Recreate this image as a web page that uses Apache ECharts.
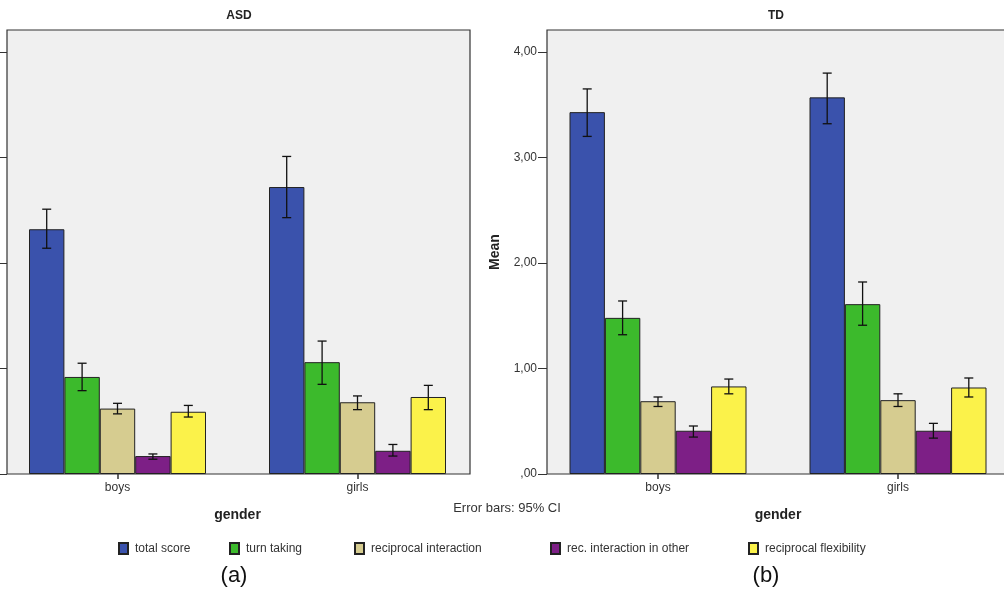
<!DOCTYPE html>
<html>
<head>
<meta charset="utf-8">
<script src="https://cdn.jsdelivr.net/npm/echarts@6/dist/echarts.min.js"></script>
<style>
html,body{margin:0;padding:0;background:#fff;}
#c{width:1004px;height:589px;}
</style>
</head>
<body>
<div id="c"></div>
<script>
// ---- data ----
const categories = ['boys', 'girls'];
const seriesNames = ['total score', 'turn taking', 'reciprocal interaction', 'rec. interaction in other', 'reciprocal flexibility'];
const seriesColors = ['#3a52ac', '#3cba2c', '#d6cc90', '#7d1f86', '#fbf24a'];
const yTicks = [0, 1, 2, 3, 4];
const yTickLabels = [',00', '1,00', '2,00', '3,00', '4,00'];

// ASD panel (a): per series order above
const asdMeanBoys  = [2.32, 0.92, 0.62, 0.17, 0.59];
const asdMeanGirls = [2.72, 1.06, 0.68, 0.22, 0.73];
const asdLowBoys   = [2.14, 0.79, 0.57, 0.14, 0.54];
const asdHighBoys  = [2.51, 1.05, 0.67, 0.19, 0.65];
const asdLowGirls  = [2.43, 0.85, 0.61, 0.17, 0.61];
const asdHighGirls = [3.01, 1.26, 0.74, 0.28, 0.84];

// TD panel (b)
const tdMeanBoys  = [3.43, 1.48, 0.69, 0.41, 0.83];
const tdMeanGirls = [3.57, 1.61, 0.70, 0.41, 0.82];
const tdLowBoys   = [3.20, 1.32, 0.64, 0.35, 0.76];
const tdHighBoys  = [3.65, 1.64, 0.73, 0.455, 0.90];
const tdLowGirls  = [3.32, 1.41, 0.64, 0.34, 0.73];
const tdHighGirls = [3.80, 1.82, 0.76, 0.48, 0.91];

// ---- layout ----
const FONT = '"Liberation Sans", Arial, sans-serif';
const BAR_W = 35.4;
const GROUP_FRAC = (BAR_W * 5) / 240;
const plotTop = 30, plotH = 444;

const chart = echarts.init(document.getElementById('c'), null, {renderer: 'canvas'});

function errRender(params, api) {
  const c = api.value(0), k = api.value(1), lo = api.value(2), hi = api.value(3);
  const pLo = api.coord([c, lo]);
  const pHi = api.coord([c, hi]);
  const bw = api.size([1, 0])[0] * GROUP_FRAC / 5;
  const x = pLo[0] + (k - 2) * bw;
  const cap = 4.5;
  const st = {stroke: '#111', lineWidth: 1.3};
  return {type: 'group', children: [
    {type: 'line', shape: {x1: x, y1: pHi[1], x2: x, y2: pLo[1]}, style: st},
    {type: 'line', shape: {x1: x - cap, y1: pHi[1], x2: x + cap, y2: pHi[1]}, style: st},
    {type: 'line', shape: {x1: x - cap, y1: pLo[1], x2: x + cap, y2: pLo[1]}, style: st}
  ]};
}

function buildPanel(idx, meanB, meanG, lowB, highB, lowG, highG) {
  const out = [];
  seriesNames.forEach((name, k) => {
    out.push({
      type: 'bar', name: name, xAxisIndex: idx, yAxisIndex: idx,
      data: [meanB[k], meanG[k]],
      barWidth: BAR_W, barGap: '0%',
      itemStyle: {color: seriesColors[k], borderColor: '#222', borderWidth: 1},
      emphasis: {disabled: true}, silent: true, z: 2
    });
  });
  const errData = [];
  seriesNames.forEach((name, k) => {
    errData.push([0, k, lowB[k], highB[k]]);
    errData.push([1, k, lowG[k], highG[k]]);
  });
  out.push({
    type: 'custom', xAxisIndex: idx, yAxisIndex: idx,
    renderItem: errRender, data: errData,
    encode: {x: 0, y: [2, 3]}, silent: true, z: 5
  });
  return out;
}

function xAxisCfg(idx) {
  return {
    type: 'category', gridIndex: idx, data: categories,
    name: 'gender', nameLocation: 'middle', nameGap: 34,
    nameTextStyle: {fontFamily: FONT, fontSize: 14, fontWeight: 'bold', color: '#222'},
    axisLine: {show: false},
    axisTick: {show: true, alignWithLabel: true, length: 5, lineStyle: {color: '#333', width: 1.5}},
    axisLabel: {fontFamily: FONT, fontSize: 12, color: '#333', margin: 8},
    splitLine: {show: false}
  };
}

function yAxisCfg(idx, offset, withName) {
  const cfg = {
    type: 'value', gridIndex: idx, min: 0, max: plotH / 105.5,
    offset: offset,
    axisLine: {show: false},
    axisTick: {show: true, length: 9, customValues: yTicks, lineStyle: {color: '#333'}},
    axisLabel: {
      fontFamily: FONT, fontSize: 12, color: '#333', margin: 10,
      customValues: yTicks,
      formatter: v => yTickLabels[yTicks.indexOf(Math.round(v))] || ''
    },
    splitLine: {show: false}
  };
  if (withName) {
    cfg.name = 'Mean';
    cfg.nameLocation = 'middle';
    cfg.nameGap = 45;
    cfg.nameTextStyle = {fontFamily: FONT, fontSize: 14, fontWeight: 'bold', color: '#222'};
  }
  return cfg;
}

const legendLefts = [113, 224, 349, 545, 743];
const legends = seriesNames.map((n, k) => ({
  data: [n], left: legendLefts[k], top: 537,
  icon: 'rect', itemWidth: 9, itemHeight: 11, selectedMode: false,
  textStyle: {fontFamily: FONT, fontSize: 12, color: '#333', padding: [0, 0, 0, 2]}
}));

const option = {
  animation: false,
  backgroundColor: '#fff',
  grid: [
    {left: -2.5, width: 480, top: plotTop, height: plotH, containLabel: false, outerBoundsMode: 'none'},
    {left: 538, width: 480, top: plotTop, height: plotH, containLabel: false, outerBoundsMode: 'none'}
  ],
  xAxis: [xAxisCfg(0), xAxisCfg(1)],
  yAxis: [yAxisCfg(0, -9.5, false), yAxisCfg(1, -9, true)],
  legend: legends,
  graphic: [
    {type: 'rect', shape: {x: 7, y: plotTop, width: 463, height: plotH}, style: {fill: '#f0f0f0', stroke: '#333', lineWidth: 1.2}, z: -10, silent: true},
    {type: 'rect', shape: {x: 547, y: plotTop, width: 463, height: plotH}, style: {fill: '#f0f0f0', stroke: '#333', lineWidth: 1.2}, z: -10, silent: true},
    {type: 'text', x: 239, y: 16, style: {text: 'ASD', font: 'bold 12px ' + FONT, fill: '#222', textAlign: 'center', textVerticalAlign: 'middle'}},
    {type: 'text', x: 776, y: 16, style: {text: 'TD', font: 'bold 12px ' + FONT, fill: '#222', textAlign: 'center', textVerticalAlign: 'middle'}},
    {type: 'text', x: 507, y: 508, style: {text: 'Error bars: 95% CI', font: '13px ' + FONT, fill: '#333', textAlign: 'center', textVerticalAlign: 'middle'}},
    {type: 'text', x: 234, y: 576, style: {text: '(a)', font: '22px ' + FONT, fill: '#111', textAlign: 'center', textVerticalAlign: 'middle'}},
    {type: 'text', x: 766, y: 576, style: {text: '(b)', font: '22px ' + FONT, fill: '#111', textAlign: 'center', textVerticalAlign: 'middle'}}
  ],
  series: [].concat(
    buildPanel(0, asdMeanBoys, asdMeanGirls, asdLowBoys, asdHighBoys, asdLowGirls, asdHighGirls),
    buildPanel(1, tdMeanBoys, tdMeanGirls, tdLowBoys, tdHighBoys, tdLowGirls, tdHighGirls)
  )
};
chart.setOption(option);
</script>
</body>
</html>
